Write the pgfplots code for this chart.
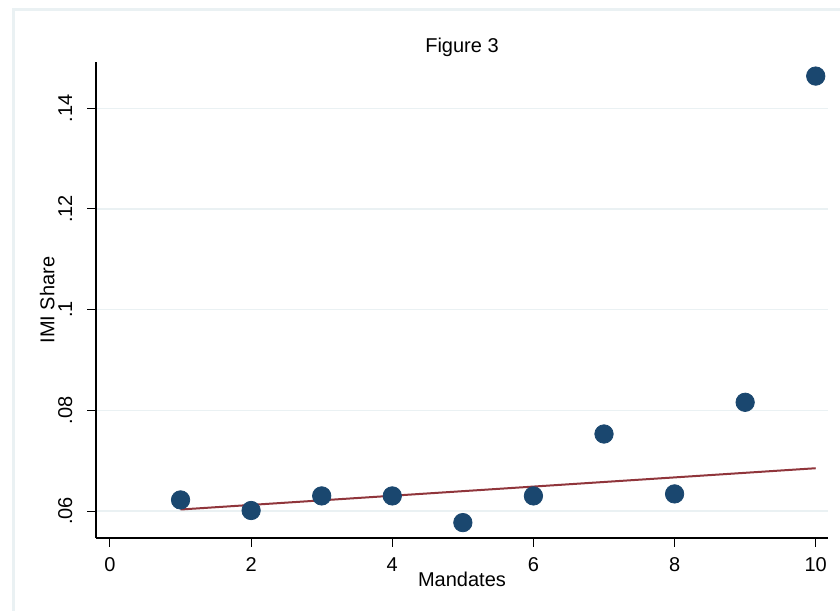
\documentclass[border=0pt]{standalone}
\usepackage{pgfplots}
\pgfplotsset{compat=1.18}
\usepackage{fontspec}
\setmainfont{Liberation Sans}
\definecolor{framec}{RGB}{234,241,243}
\definecolor{gridc}{RGB}{234,241,243}
\definecolor{navy}{RGB}{26,71,111}
\definecolor{maroonc}{RGB}{144,53,59}
\begin{document}
\begin{tikzpicture}
\clip (0,0) rectangle (420pt,305pt);
\fill[white] (0,0) rectangle (420pt,305pt);
\draw[framec, line width=1.5pt] (6.5pt,-20pt) rectangle (440pt,300pt);
\begin{axis}[at={(48pt,36pt)}, anchor=south west, scale only axis,
  width=366pt, height=238pt,
  xmin=-0.198, xmax=10.174, ymin=0.05464, ymax=0.1492,
  axis lines=left, axis line style={-, line width=0.6pt},
  xtick={0,2,4,6,8,10}, xticklabels={0,2,4,6,8,10},
  ytick={0.06,0.08,0.1,0.12,0.14}, yticklabels={.06,.08,.1,.12,.14},
  tick align=outside, major tick length=4.5pt,
  tick style={black, line width=0.5pt},
  ymajorgrids, grid style={gridc, line width=0.7pt},
  font=\fontsize{10}{12}\selectfont,
  xticklabel style={anchor=base, yshift=-12.1pt},
  yticklabel style={rotate=90, anchor=base},
  yticklabel shift=7.5pt,
  title={Figure 3},
  title style={at={(axis description cs:0.5,1)}, anchor=base, yshift=-1.3pt},
  xlabel={Mandates},
  xlabel style={at={(axis description cs:0.5,0)}, anchor=base, yshift=-24pt},
  ylabel={IMI Share},
  ylabel style={at={(axis description cs:-0.0567,0.5)}, anchor=base},
  clip=false,
]
\addplot[maroonc, line width=1pt] coordinates {(1,0.0603) (10,0.0685)};
\addplot[only marks, mark=*, mark size=4.6pt, mark options={fill=navy, draw=navy}] coordinates {
(1,0.0622) (2,0.0601) (3,0.0630) (4,0.0630) (5,0.0577)
(6,0.0630) (7,0.0753) (8,0.0634) (9,0.0816) (10,0.1464)};
\end{axis}
\end{tikzpicture}
\end{document}
